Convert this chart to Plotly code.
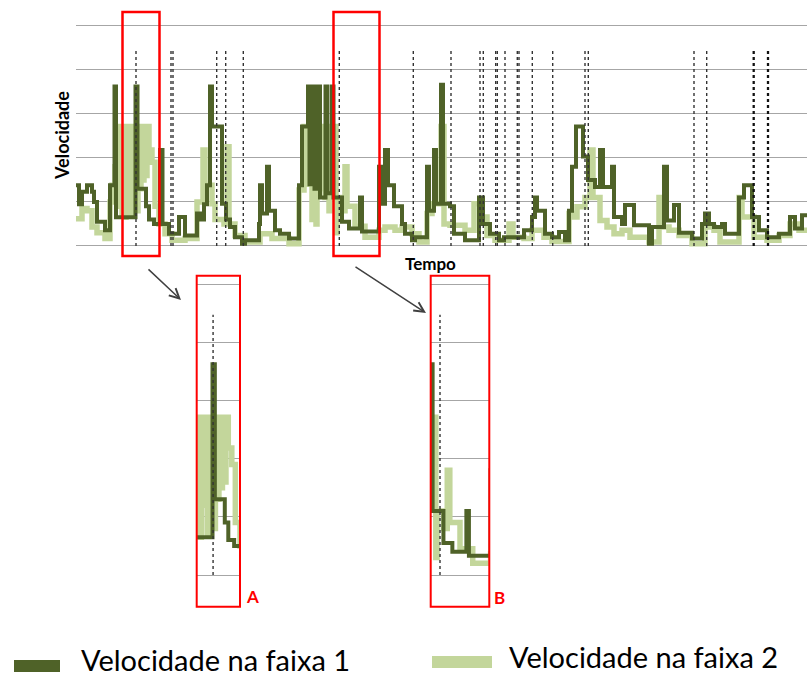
import plotly.graph_objects as go

W, H = 807, 678

# ---------------- data ----------------
tempo_f1 = [0, 3, 6, 11, 16, 18, 21, 29, 34, 38.5, 40, 59.5, 61.5, 70, 73, 78, 84, 86.5, 93,
            103, 109, 121, 124, 128, 131, 134, 136, 146, 150, 154, 159, 166, 169, 183, 184,
            186, 191, 193, 199, 204, 213, 223, 226, 232, 233.5, 237, 238.5, 242.5, 244, 249.5, 251,
            255.5, 257.5, 266, 273, 284, 286, 303, 305, 309, 312, 318, 326, 329, 336, 339, 351, 353, 358,
            360, 365, 367, 374, 378, 389, 403, 407, 414, 423, 428, 448, 456, 459, 461, 469,
            476, 483, 489, 493, 496, 500, 507, 512, 519, 524, 527, 536, 538, 546, 549, 558,
            573, 576, 588, 591, 598, 603, 616, 626, 629, 633, 638, 646, 649, 663, 668, 676,
            683, 691, 703, 714, 719, 726, 731]
vel_f1 = [1.38, 0.95, 1.23, 1.38, 1.23, 1.0, 0.55, 0.36, 1.38, 3.62, 0.65, 3.62, 1.3, 0.9, 0.6, 0.5, 2.18, 0.5, 0.28,
          0.66, 0.24, 0.74, 0.6, 0.95, 1.38, 3.62, 2.71, 0.96, 0.6, 0.43, 0.2, 0.05, 0.13, 0.5, 1.38,
          0.74, 1.8, 0.8, 0.36, 0.28, 0.17, 1.38, 2.71, 3.62, 1.4, 3.62, 1.3, 3.62, 1.1, 3.62, 1.2,
          3.62, 1.1, 0.55, 0.4, 1.1, 0.33, 1.8, 0.96, 2.18, 1.38, 0.9, 0.5, 0.28, 0.13, 0.2, 1.8, 0.8, 2.18,
          0.96, 3.66, 0.96, 0.9, 0.28, 0.13, 1.1, 0.5, 0.28, 0.13, 0.2, 0.36, 0.66, 1.1, 0.8, 0.28,
          0.2, 0.32, 0.13, 0.8, 1.8, 2.71, 2.03, 1.5, 1.34, 2.18, 1.34, 1.8, 0.66, 0.5, 0.93, 0.47,
          0.05, 0.43, 1.8, 0.58, 0.93, 0.3, 0.17, 0.5, 0.74, 0.5, 0.43, 0.5, 0.28, 1.1, 1.38, 0.66,
          0.36, 0.2, 0.28, 0.66, 0.4, 0.7, 0.7]

tempo_f2 = [0, 6, 11, 16, 21, 29, 34, 36, 39, 41, 43, 44, 46, 47, 49, 50, 52, 53, 55, 56,
            58, 59, 61, 62, 64, 65, 67, 68, 70, 71, 73, 76, 79, 83, 89, 96, 109, 121, 127, 129,
            136, 139, 148, 151, 153, 159, 169, 184, 196, 213, 223, 228, 232, 233, 236, 237, 240, 241, 244, 245,
            249, 250, 253, 254, 260, 261, 266, 269, 271, 279, 289, 303, 309, 319, 326, 336, 343, 351, 356, 365,
            368, 374, 389, 398, 404, 411, 419, 433, 437, 448, 456, 468, 476, 493, 496, 501, 509, 514, 517, 524,
            531, 538, 546, 554, 573, 583, 586, 593, 603, 616, 629, 638, 644, 663, 666, 678, 691, 703, 714, 723, 731]
vel_f2 = [0.62, 0.85, 0.8, 0.43, 0.3, 0.17, 1.0, 1.38, 1.8, 2.71, 0.9, 2.71, 0.7, 2.71, 0.65, 2.71, 1.2, 2.71, 0.7, 2.71,
          1.0, 2.71, 0.8, 2.71, 1.3, 2.71, 1.5, 2.71, 1.6, 2.71, 2.18, 1.9, 0.9, 0.5, 0.28, 0.13, 0.17, 1.0, 2.18, 1.38,
          0.96, 0.6, 0.5, 2.25, 0.5, 0.24, 0.09, 0.28, 0.17, 0.05, 1.27, 2.71, 1.4, 2.71, 0.6, 2.71, 0.5, 2.71, 1.3, 2.71,
          1.1, 2.71, 0.8, 2.71, 0.3, 1.1, 0.8, 1.8, 0.9, 0.45, 0.2, 0.36, 0.43, 0.36, 0.43, 0.28, 0.09, 0.74, 0.96, 2.71,
          0.5, 0.47, 0.36, 0.96, 0.66, 0.24, 0.13, 0.5, 0.2, 0.17, 0.36, 0.2, 0.1, 0.74, 0.66, 0.89, 1.1, 2.18, 1.1, 0.58,
          0.43, 0.28, 0.36, 0.2, 0.09, 1.1, 0.43, 0.36, 0.24, 0.05, 0.43, 0.36, 0.09, 1.1, 0.66, 0.2, 0.13, 0.24, 0.5, 0.36, 0.36]

eventos = [60, 95, 97, 140.7, 149.7, 167.3, 263.3, 337.3, 375, 404, 407.3, 419.7, 421.3,
           429, 441.3, 443, 456.3, 476.7, 509, 512.3, 618, 630.7]
eventos_fortes = [677.7, 692]
altura_evento = 4.47
grade = [0, 1, 2, 3, 4, 5]

janela_a = [46, 83]
janela_b = [256, 302]

nome_f1 = "Velocidade na faixa 1"
nome_f2 = "Velocidade na faixa 2"

# ---------------- style ----------------
COR_F1 = "#4F6228"
COR_F2 = "#C3D69B"
COR_EVT = "#333333"
RED = "#FF0000"
FONT = "Lato"


def px(x):
    return x / W


def py(y):
    return 1 - y / H


def ev_xy(lista):
    xs, ys = [], []
    for e in lista:
        xs += [e, e, None]
        ys += [0, altura_evento, None]
    return xs, ys


fig = go.Figure()

for ax in ["", "2", "3"]:
    xa, ya = "x" + ax, "y" + ax
    fig.add_trace(go.Scatter(x=tempo_f2, y=vel_f2, mode="lines", line_shape="hv",
                             line=dict(color=COR_F2, width=5.5), xaxis=xa, yaxis=ya,
                             showlegend=False, hoverinfo="skip", name=nome_f2))
    fig.add_trace(go.Scatter(x=tempo_f1, y=vel_f1, mode="lines", line_shape="hv",
                             line=dict(color=COR_F1, width=4.0), xaxis=xa, yaxis=ya,
                             showlegend=False, hoverinfo="skip", name=nome_f1))
    ex, ey = ev_xy(eventos)
    fig.add_trace(go.Scatter(x=ex, y=ey, mode="lines", line=dict(color=COR_EVT, width=1.4, dash="dot"),
                             xaxis=xa, yaxis=ya, showlegend=False, hoverinfo="skip"))
    ex, ey = ev_xy(eventos_fortes)
    fig.add_trace(go.Scatter(x=ex, y=ey, mode="lines", line=dict(color="#111111", width=2.3, dash="dot"),
                             xaxis=xa, yaxis=ya, showlegend=False, hoverinfo="skip"))

# main axes geometry (pixel positions)
main_x0 = 76
g0, g5 = 246.0, 25.7          # pixel y of value 0 and value 5
ppu = (g0 - g5) / 5
pad = 0.06
common_x = dict(showgrid=False, showticklabels=False, zeroline=False, showline=False, ticks="")
common_y = dict(tickvals=grade, showgrid=True, gridcolor="#A6A6A6", gridwidth=1.2,
                showticklabels=False, zeroline=False, showline=False, ticks="")

ins_top, ins_bot = 275.7, 606.7
ig0, ig5 = 575.0, 284.0
ippu = (ig0 - ig5) / 5
ins_range = [-(ins_bot - ig0) / ippu, 5 + (ig5 - ins_top) / ippu]

boxA = (196.7, 240.0)
boxB = (430.7, 489.3)

fig.update_layout(
    width=W, height=H,
    margin=dict(l=0, r=0, t=0, b=0),
    paper_bgcolor="white", plot_bgcolor="rgba(0,0,0,0)",
    xaxis=dict(domain=[px(main_x0), 1], range=[0, 731], **common_x),
    yaxis=dict(domain=[py(g0 + pad * ppu), py(g5 - pad * ppu)], range=[-pad, 5 + pad], **common_y),
    xaxis2=dict(domain=[px(boxA[0]), px(boxA[1])], range=janela_a, anchor="y2", **common_x),
    yaxis2=dict(domain=[py(ins_bot), py(ins_top)], range=ins_range, anchor="x2", **common_y),
    xaxis3=dict(domain=[px(boxB[0]), px(boxB[1])], range=janela_b, anchor="y3", **common_x),
    yaxis3=dict(domain=[py(ins_bot), py(ins_top)], range=ins_range, anchor="x3", **common_y),
    showlegend=False,
)

shapes = []
for (a, b) in [(122.5, 159.5), (333.5, 379.5)]:
    shapes.append(dict(type="rect", xref="paper", yref="paper", x0=px(a), x1=px(b),
                       y0=py(256), y1=py(12), line=dict(color=RED, width=2.5)))
for (a, b) in [boxA, boxB]:
    shapes.append(dict(type="rect", xref="paper", yref="paper", x0=px(a), x1=px(b),
                       y0=py(ins_bot), y1=py(ins_top), line=dict(color=RED, width=2)))
shapes.append(dict(type="rect", xref="paper", yref="paper", x0=px(14), x1=px(60), y0=py(672), y1=py(660),
                   fillcolor=COR_F1, line=dict(width=0)))
shapes.append(dict(type="rect", xref="paper", yref="paper", x0=px(432), x1=px(492), y0=py(668), y1=py(656),
                   fillcolor=COR_F2, line=dict(width=0)))
fig.update_layout(shapes=shapes)

ann = []
ann.append(dict(x=px(62), y=py(136), xref="paper", yref="paper", xanchor="center", yanchor="middle",
                text="<b>Velocidade</b>", textangle=-90,
                showarrow=False, font=dict(family=FONT, size=18, color="#000000")))
ann.append(dict(x=px(430), y=py(263), xref="paper", yref="paper", xanchor="center", yanchor="middle",
                text="<b>Tempo</b>", showarrow=False, font=dict(family=FONT, size=17, color="#000000")))
ann.append(dict(x=px(252.5), y=py(596), xref="paper", yref="paper", xanchor="center", yanchor="middle",
                text="<b>A</b>", showarrow=False, font=dict(family=FONT, size=17, color=RED)))
ann.append(dict(x=px(500), y=py(597), xref="paper", yref="paper", xanchor="center", yanchor="middle",
                text="<b>B</b>", showarrow=False, font=dict(family=FONT, size=17, color=RED)))
ann.append(dict(x=px(181), y=py(300), xref="paper", yref="paper", ax=147 - 181, ay=268 - 300,
                axref="pixel", ayref="pixel", text="", showarrow=True, arrowhead=5, arrowsize=1.3,
                arrowwidth=1.5, arrowcolor="#404040"))
ann.append(dict(x=px(426), y=py(313), xref="paper", yref="paper", ax=354 - 426, ay=266 - 313,
                axref="pixel", ayref="pixel", text="", showarrow=True, arrowhead=5, arrowsize=1.3,
                arrowwidth=1.5, arrowcolor="#404040"))
ann.append(dict(x=px(80), y=py(677.5), xref="paper", yref="paper", xanchor="left", yanchor="bottom",
                text=nome_f1, showarrow=False, borderpad=0,
                font=dict(family=FONT, size=29, color="#000000")))
ann.append(dict(x=px(508), y=py(674.5), xref="paper", yref="paper", xanchor="left", yanchor="bottom",
                text=nome_f2, showarrow=False, borderpad=0,
                font=dict(family=FONT, size=29, color="#000000")))
fig.update_layout(annotations=ann)

fig.write_html("out.html", config={"displayModeBar": False},
               post_script="document.body.style.margin='0px';")
